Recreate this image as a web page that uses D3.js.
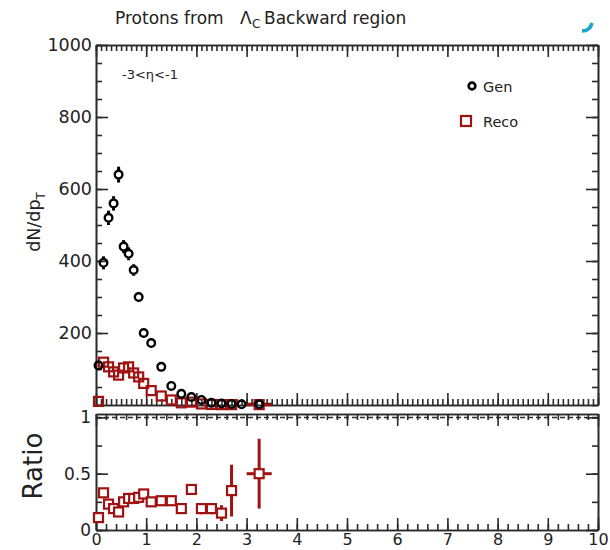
<!DOCTYPE html>
<html>
<head>
<script src="https://d3js.org/d3.v7.min.js"></script>
<style>
body { margin: 0; background: #fff; }
text { font-family: "DejaVu Sans", "Liberation Sans", Arial, sans-serif; fill: #222; }
</style>
</head>
<body>
<svg id="svgMain" width="610" height="550"></svg>
<script>
// pT bin centres and half widths
var ptBins  = [0.05,0.15,0.25,0.35,0.45,0.55,0.65,0.75,0.85,0.95,1.1,1.3,1.5,1.7,1.9,2.1,2.3,2.5,2.7,2.9,3.25];
var ptHalf  = [0.05,0.05,0.05,0.05,0.05,0.05,0.05,0.05,0.05,0.05,0.1,0.1,0.1,0.1,0.1,0.1,0.1,0.1,0.1,0.1,0.25];
var genVals = [110,395,520,560,640,440,420,375,300,200,172,106,53,31,22,14,6,4,3,2,2];
var genErr  = [10,18,20,20,22,18,18,16,14,12,10,8,6,4,4,3,2,2,2,1,1];
var recoVals = [10,119,106,92,83,103,106,89,78,60,40,25,14,6,8,3,1.5,1,1,0,1];
var recoErr  = [3,9,8,8,8,8,8,8,7,6,5,4,3,2,2,1,1,1,1,0,1];
var ratioVals = [0.11,0.33,0.23,0.19,0.16,0.25,0.28,0.28,0.29,0.32,0.25,0.26,0.26,0.19,0.36,0.19,0.19,0.15,0.35,null,0.5];
var ratioErr  = [0.03,0.03,0.03,0.03,0.03,0.03,0.03,0.03,0.03,0.03,0.03,0.04,0.04,0.04,0.04,0.05,0.05,0.07,0.23,null,0.31];
var xTickLabels = [0,1,2,3,4,5,6,7,8,9,10];
var yTickLabels = [200,400,600,800,1000];
var ratioTickLabels = [0,0.5,1];

var svg = d3.select('#svgMain');
var ink = '#2a2a2a', red = '#a01212';

var xs = d3.scaleLinear().domain([0,10]).range([96,598]);
var ysTop = d3.scaleLinear().domain([0,1000]).range([405,45]);
var ysBot = d3.scaleLinear().domain([0,1.03]).range([530,414]);

var minorX10 = d3.range(0,10.001,0.1), minorX5 = d3.range(0,10.001,0.2);

// helper: draw an axis with major + minor ticks inside the frame
function ticks(gen, pos, major, minor, len, lab) {
  var g = svg.append('g').attr('transform', pos);
  g.call(gen.tickValues(minor).tickSize(len*0.5).tickSizeOuter(0).tickFormat(''));
  var g2 = svg.append('g').attr('transform', pos);
  g2.call(gen.tickValues(major).tickSize(len).tickSizeOuter(0).tickFormat(lab ? d3.format('') : ''));
  [g, g2].forEach(function(s){
    s.selectAll('path,line').attr('stroke', ink).attr('stroke-width', 1.6);
    s.selectAll('text').attr('font-size', 17.5).attr('fill', ink)
      .attr('font-family', '"DejaVu Sans", sans-serif');
  });
  return g2;
}

// upper frame
ticks(d3.axisBottom(xs), 'translate(0,405)', xTickLabels, minorX10, -12, false);
ticks(d3.axisTop(xs), 'translate(0,45)', xTickLabels, minorX10, -12, false);
var yl = ticks(d3.axisLeft(ysTop), 'translate(96,0)', yTickLabels, d3.range(0,1001,50), -12, true);
yl.selectAll('text').attr('x', -4);
ticks(d3.axisRight(ysTop), 'translate(598,0)', yTickLabels, d3.range(0,1001,50), -12, false);

// lower frame
var xl = ticks(d3.axisBottom(xs), 'translate(0,530)', xTickLabels, minorX5, -12, true);
xl.selectAll('text').attr('y', 4).attr('font-size', 16);
ticks(d3.axisTop(xs), 'translate(0,414)', xTickLabels, minorX5, -12, false);
var rl = ticks(d3.axisLeft(ysBot), 'translate(96,0)', ratioTickLabels, d3.range(0,1.01,0.25), -12, true);
rl.selectAll('text').attr('x', -5).attr('font-size', 17);
ticks(d3.axisRight(ysBot), 'translate(598,0)', ratioTickLabels, d3.range(0,1.01,0.25), -12, false);

// dashed line at ratio = 1
svg.append('line')
  .attr('x1', xs(0)).attr('x2', xs(10))
  .attr('y1', ysBot(1)).attr('y2', ysBot(1))
  .attr('stroke', ink).attr('stroke-width', 1.5).attr('stroke-dasharray', '5,3');

// error bars drawn outside the marker
function errBars(g, xv, hw, yv, ye, ys, col, r) {
  xv.forEach(function(x, i) {
    if (yv[i] === null) return;
    var cx = xs(x), cy = ys(yv[i]);
    var yTop = ys(yv[i] + ye[i]), yBot = Math.min(ys(Math.max(yv[i] - ye[i], 0)), ys.range()[0]);
    var segs = [];
    if (cy - yTop > r) segs.push([cx, yTop, cx, cy - r]);
    if (yBot - cy > r) segs.push([cx, cy + r, cx, yBot]);
    var xl = xs(x - hw[i]), xr = xs(x + hw[i]);
    if (cx - xl > r + 2) segs.push([xl, cy, cx - r, cy]);
    if (xr - cx > r + 2) segs.push([cx + r, cy, xr, cy]);
    segs.forEach(function(s) {
      g.append('line').attr('x1', s[0]).attr('y1', s[1]).attr('x2', s[2]).attr('y2', s[3])
        .attr('stroke', col).attr('stroke-width', 3);
    });
  });
}

var gTop = svg.append('g');
errBars(gTop, ptBins, ptHalf, genVals, genErr, ysTop, '#000', 4.5);
errBars(gTop, ptBins, ptHalf, recoVals, recoErr, ysTop, red, 5);

gTop.selectAll('rect.reco')
  .data(ptBins.map(function(x, i){ return {x: x, y: recoVals[i]}; }).filter(function(d){ return d.y > 0; }))
  .enter().append('rect')
    .attr('x', function(d){ return xs(d.x) - 4.5; })
    .attr('y', function(d){ return ysTop(d.y) - 4.5; })
    .attr('width', 9).attr('height', 9)
    .attr('fill', 'none').attr('stroke', red).attr('stroke-width', 2.2);

gTop.selectAll('circle.gen')
  .data(ptBins.map(function(x, i){ return {x: x, y: genVals[i]}; }))
  .enter().append('circle')
    .attr('cx', function(d){ return xs(d.x); })
    .attr('cy', function(d){ return ysTop(d.y); })
    .attr('r', 3.8)
    .attr('fill', 'none').attr('stroke', '#000').attr('stroke-width', 2.4);

var gBot = svg.append('g');
errBars(gBot, ptBins, ptHalf, ratioVals, ratioErr, ysBot, red, 5);
gBot.selectAll('rect')
  .data(ptBins.map(function(x, i){ return {x: x, y: ratioVals[i]}; }).filter(function(d){ return d.y !== null; }))
  .enter().append('rect')
    .attr('x', function(d){ return xs(d.x) - 4.5; })
    .attr('y', function(d){ return ysBot(d.y) - 4.5; })
    .attr('width', 9).attr('height', 9)
    .attr('fill', '#fff').attr('stroke', red).attr('stroke-width', 2.2);

// titles and labels
var title = svg.append('g');
title.append('text').attr('x', 115).attr('y', 24).attr('font-size', 17).text('Protons from');
title.append('text').attr('x', 240).attr('y', 24).attr('font-size', 17).text('\u039B');
title.append('text').attr('x', 252).attr('y', 28).attr('font-size', 12).text('C');
title.append('text').attr('x', 264).attr('y', 24).attr('font-size', 17).text('Backward region');

svg.append('text').attr('x', 122).attr('y', 79).attr('font-size', 13).text('-3<\u03B7<-1');

var ylab = svg.append('text').attr('transform', 'translate(40,222) rotate(-90)')
  .attr('text-anchor', 'middle').attr('font-size', 17.5);
ylab.append('tspan').text('dN/dp');
ylab.append('tspan').attr('font-size', 12).attr('dy', 5).text('T');

svg.append('text').attr('transform', 'translate(42,466) rotate(-90)')
  .attr('text-anchor', 'middle').attr('font-size', 26).text('Ratio');

// legend
svg.append('circle').attr('cx', 472).attr('cy', 86).attr('r', 3.4)
  .attr('fill', 'none').attr('stroke', '#000').attr('stroke-width', 2.6);
svg.append('text').attr('x', 483).attr('y', 92).attr('font-size', 14.5).text('Gen');
svg.append('rect').attr('x', 461).attr('y', 116).attr('width', 10).attr('height', 10)
  .attr('fill', 'none').attr('stroke', red).attr('stroke-width', 2.2);
svg.append('text').attr('x', 483).attr('y', 127).attr('font-size', 14.5).text('Reco');

// small cyan mark in the corner of the screenshot
svg.append('path').attr('d', 'M582,31 Q590,31 592,23')
  .attr('fill', 'none').attr('stroke', '#1aa6c9').attr('stroke-width', 3.5);
</script>
</body>
</html>
